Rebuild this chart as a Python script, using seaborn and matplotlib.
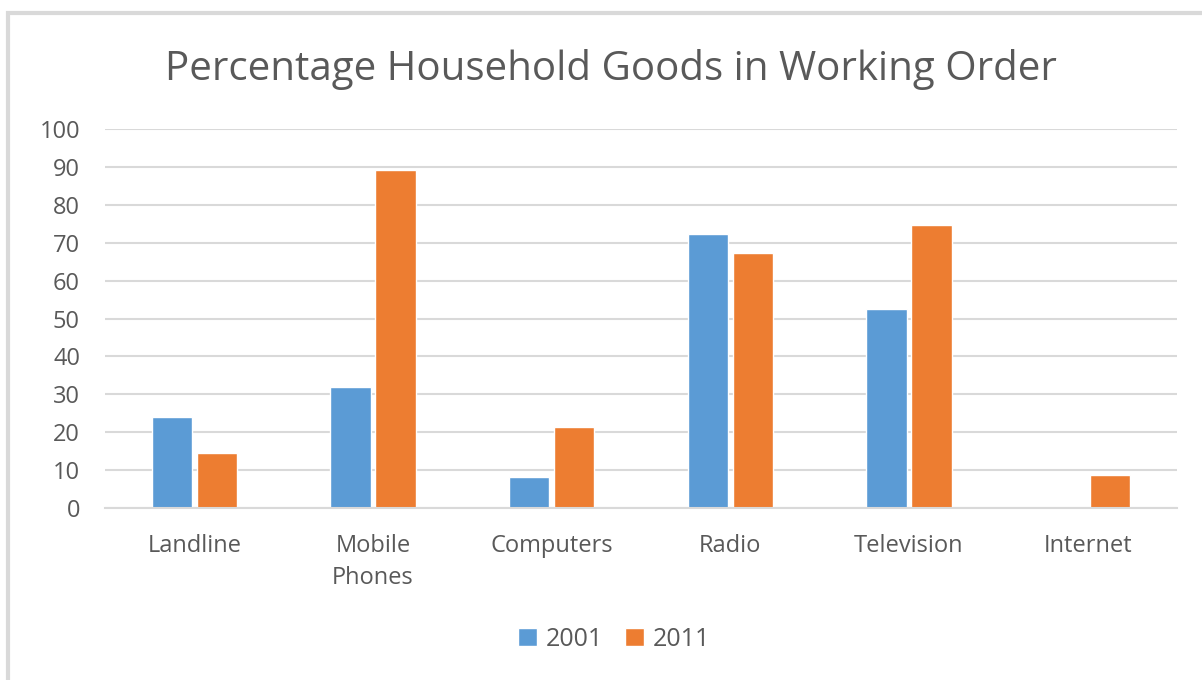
import matplotlib
matplotlib.use("Agg")
import matplotlib.pyplot as plt
import seaborn as sns
import pandas as pd
from matplotlib.patches import Rectangle

categories = ["Landline", "Mobile\nPhones", "Computers", "Radio", "Television", "Internet"]
years = ["2001", "2011"]
values_2001 = [24.0, 31.9, 8.2, 72.2, 52.4, 0.0]
values_2011 = [14.5, 89.1, 21.3, 67.4, 74.6, 8.6]
y_ticks = [0, 10, 20, 30, 40, 50, 60, 70, 80, 90, 100]

df = pd.DataFrame({
    "Item": categories * 2,
    "Year": [years[0]] * len(categories) + [years[1]] * len(categories),
    "Percent": values_2001 + values_2011,
})

sns.set_theme(style="white")
plt.rcParams["font.family"] = ["Open Sans", "DejaVu Sans"]

text_color = "#595959"
grid_color = "#d9d9d9"
palette = {"2001": "#5B9BD5", "2011": "#ED7D31"}

fig = plt.figure(figsize=(12.02, 6.8), dpi=100)
ax = fig.add_axes([105 / 1202, 1 - 508 / 680, (1177 - 105) / 1202, (508 - 129) / 680])

sns.barplot(data=df, x="Item", y="Percent", hue="Year", palette=palette,
            order=categories, hue_order=years, width=0.504, gap=0.11,
            saturation=1, ax=ax, legend=True)

ax.set_ylim(0, 100)
ax.set_xlim(-0.5, len(categories) - 0.5)
ax.set_yticks(y_ticks)
ax.yaxis.grid(True, color=grid_color, linewidth=1.5)
ax.set_axisbelow(True)
for side in ["top", "right", "left"]:
    ax.spines[side].set_visible(False)
ax.spines["bottom"].set_color(grid_color)
ax.spines["bottom"].set_linewidth(1.5)
ax.tick_params(axis="both", length=0, colors=text_color, labelsize=17)
ax.tick_params(axis="y", pad=18)
ax.tick_params(axis="x", pad=19)
for lbl in ax.get_xticklabels():
    lbl.set_linespacing(1.45)
ax.set_xlabel("")
ax.set_ylabel("")

leg = ax.legend(loc="center", bbox_to_anchor=(614 / 1202, (680 - 639) / 680),
                bbox_transform=fig.transFigure, ncol=2, frameon=False,
                fontsize=18, handlelength=0.75, handleheight=0.75,
                handletextpad=0.35, columnspacing=0.9)
for t in leg.get_texts():
    t.set_color(text_color)

fig.text(0.508, 1 - 69 / 680, "Percentage Household Goods in Working Order",
         ha="center", va="center", fontsize=29, color=text_color)

# outer chart frame
fig.patches.append(Rectangle((8 / 1202, -0.05), 1.2, 1 - 13 / 680 + 0.05,
                             transform=fig.transFigure, fill=False,
                             edgecolor=grid_color, linewidth=3))

fig.savefig("out.png", dpi=100, facecolor="white")
